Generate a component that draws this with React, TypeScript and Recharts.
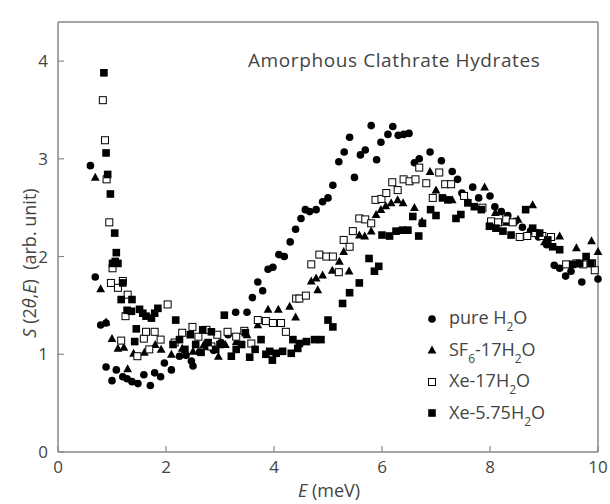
import React from 'react';
import { ScatterChart, Scatter, XAxis, YAxis, Legend } from 'recharts';

// E (meV) vs S(2θ,E)
const pureH2O: [number, number][] = [
  [0.6, 2.93], [0.69, 1.79], [0.79, 1.3], [0.89, 1.32], [0.89, 0.87], [1.0, 0.73], [1.08, 0.84],
  [1.2, 0.77], [1.28, 0.75], [1.37, 0.72], [1.48, 0.7], [1.59, 0.79], [1.71, 0.68], [1.79, 0.81],
  [1.9, 0.77], [1.97, 0.91], [2.1, 0.84], [2.25, 0.98], [2.37, 0.99], [2.47, 0.93], [2.5, 0.88],
  [2.62, 1.02], [2.75, 1.08], [2.88, 1.04], [3.02, 1.12], [3.15, 1.2], [3.29, 1.43], [3.5, 1.43],
  [3.6, 1.58], [3.7, 1.74], [3.79, 1.65], [3.89, 1.87], [3.98, 1.89], [4.09, 2.02], [4.19, 2.0],
  [4.3, 2.15], [4.4, 2.28], [4.5, 2.39], [4.58, 2.48], [4.66, 2.46], [4.78, 2.48], [4.9, 2.56],
  [5.0, 2.6], [5.09, 2.73], [5.2, 2.97], [5.3, 3.07], [5.4, 3.22], [5.49, 2.81], [5.6, 3.04],
  [5.69, 3.09], [5.8, 3.34], [5.9, 2.99], [5.98, 3.17], [6.11, 3.25], [6.2, 3.33], [6.3, 3.24],
  [6.4, 3.25], [6.5, 3.26], [6.6, 2.96], [6.69, 3.0], [6.89, 3.07], [7.1, 2.98], [7.3, 2.87],
  [7.4, 2.79], [7.48, 2.65], [7.68, 2.71], [7.79, 2.6], [8.0, 2.62], [8.09, 2.51], [8.21, 2.46],
  [8.33, 2.42], [8.47, 2.36], [8.6, 2.3], [8.75, 2.26], [8.9, 2.2], [9.05, 2.12], [9.19, 1.91],
  [9.29, 1.88], [9.4, 1.8], [9.5, 1.85], [9.7, 1.74], [10.0, 1.77],
];

const sf6H2O: [number, number][] = [
  [0.69, 2.81], [0.79, 1.67], [0.89, 1.33], [1.0, 1.16], [1.11, 1.06], [1.22, 1.07], [1.29, 0.85],
  [1.4, 1.01], [1.6, 1.02], [1.8, 1.1], [1.91, 1.05], [2.1, 1.0], [2.3, 1.06], [2.5, 1.03],
  [2.7, 1.1], [2.97, 0.98], [3.1, 1.1], [3.3, 1.13], [3.5, 1.2], [3.7, 1.3], [3.89, 1.46],
  [4.08, 1.46], [4.29, 1.49], [4.4, 1.38], [4.69, 1.75], [4.78, 1.78], [4.81, 1.66], [4.9, 1.81],
  [5.08, 1.86], [5.21, 1.95], [5.29, 2.05], [5.39, 1.85], [5.58, 2.22], [5.68, 2.21], [5.8, 2.26],
  [5.89, 2.43], [5.98, 2.48], [6.07, 2.52], [6.17, 2.55], [6.29, 2.58], [6.39, 2.55], [6.6, 2.5],
  [6.74, 2.36], [6.89, 2.87], [7.0, 2.68], [7.3, 2.58], [7.6, 2.55], [7.9, 2.71], [8.1, 2.45],
  [8.3, 2.35], [8.52, 2.38], [8.79, 2.53], [9.01, 2.15], [9.29, 2.21], [9.6, 2.09], [9.88, 2.16],
  [10.0, 2.05],
];

const xe17H2O: [number, number][] = [
  [0.83, 3.6], [0.87, 3.19], [0.9, 2.79], [0.95, 2.35], [1.01, 1.88], [0.98, 1.73], [1.11, 1.68],
  [1.2, 1.75], [1.29, 1.61], [1.25, 1.39], [1.17, 1.14], [1.47, 0.98], [1.59, 1.16], [1.63, 1.23],
  [1.69, 1.05], [1.79, 1.23], [1.9, 1.15], [2.03, 1.51], [2.16, 1.12], [2.3, 1.22], [2.49, 1.28],
  [2.6, 1.18], [2.75, 1.25], [2.84, 1.08], [2.95, 1.2], [3.14, 1.23], [3.3, 1.18], [3.45, 1.24],
  [3.58, 1.11], [3.7, 1.35], [3.85, 1.34], [3.98, 1.32], [4.13, 1.32], [4.22, 1.23], [4.41, 1.57],
  [4.47, 1.57], [4.59, 1.6], [4.69, 1.92], [4.84, 2.02], [4.97, 2.0], [5.09, 2.0], [5.2, 1.84],
  [5.29, 2.17], [5.4, 2.1], [5.46, 2.26], [5.58, 2.39], [5.69, 2.38], [5.8, 2.34], [5.88, 2.58],
  [5.99, 2.59], [6.08, 2.65], [6.19, 2.76], [6.29, 2.68], [6.4, 2.79], [6.51, 2.77], [6.62, 2.79],
  [6.69, 2.91], [6.82, 2.75], [6.94, 2.6], [7.06, 2.86], [7.17, 2.74], [7.28, 2.74], [7.52, 2.62],
  [7.86, 2.5], [8.02, 2.36], [8.15, 2.35], [8.3, 2.38], [8.42, 2.35], [8.55, 2.2], [8.69, 2.21],
  [8.84, 2.24], [8.97, 2.21], [9.13, 2.2], [9.41, 1.92], [9.6, 1.93], [9.73, 1.92], [9.89, 1.93],
  [9.94, 1.86],
];

const xe575H2O: [number, number][] = [
  [0.85, 3.88], [0.89, 3.06], [0.92, 2.84], [0.97, 2.64], [1.05, 2.24], [1.08, 2.04], [1.06, 1.95],
  [1.01, 1.93], [1.11, 1.93], [1.2, 1.73], [1.17, 1.56], [1.37, 1.56], [1.28, 1.45], [1.36, 1.44],
  [1.45, 1.26], [1.42, 1.13], [1.51, 1.46], [1.57, 1.42], [1.63, 1.39], [1.73, 1.37], [1.79, 1.42],
  [1.85, 1.47], [2.13, 1.1], [2.18, 1.35], [2.25, 1.15], [2.35, 1.05], [2.45, 1.2], [2.55, 1.1],
  [2.65, 1.02], [2.68, 1.25], [2.78, 1.12], [2.84, 1.23], [2.92, 1.05], [3.0, 1.1], [3.08, 1.4],
  [3.21, 0.98], [3.3, 1.05], [3.4, 1.1], [3.47, 1.22], [3.55, 0.97], [3.65, 1.05], [3.76, 1.15],
  [3.85, 1.0], [3.92, 1.03], [3.97, 0.94], [4.04, 1.01], [4.16, 1.03], [4.32, 1.01], [4.35, 1.15],
  [4.44, 1.06], [4.47, 1.11], [4.6, 1.13], [4.75, 1.15], [4.87, 1.15], [5.0, 1.35], [5.09, 1.28],
  [5.27, 1.52], [5.4, 1.63], [5.58, 1.73], [5.76, 1.98], [5.86, 1.85], [5.94, 1.9], [6.0, 2.22],
  [6.14, 2.21], [6.26, 2.26], [6.38, 2.27], [6.48, 2.27], [6.57, 2.41], [6.68, 2.21], [6.75, 2.34],
  [6.9, 2.48], [7.0, 2.42], [7.12, 2.6], [7.22, 2.58], [7.37, 2.39], [7.46, 2.43], [7.59, 2.55],
  [7.71, 2.51], [7.84, 2.48], [7.99, 2.31], [8.11, 2.29], [8.24, 2.26], [8.39, 2.22], [8.66, 2.48],
  [8.79, 2.29], [8.92, 2.24], [9.07, 2.17], [9.16, 2.1], [9.29, 2.07], [9.53, 1.92], [9.66, 1.93],
  [9.78, 2.0], [9.87, 1.93],
];

const xTicks = [0, 2, 4, 6, 8, 10];
const yTicks = [0, 1, 2, 3, 4];

const FONT = '"Open Sans", "DejaVu Sans", sans-serif';
const TEXT = '#444';
const FRAME = '#888';

const toPts = (arr: [number, number][]) => arr.map(([x, y]) => ({ x, y }));

const CircleMark = (p: any) => <circle cx={p.cx} cy={p.cy} r={3.8} fill="#000" />;
const TriMark = (p: any) => (
  <polygon
    points={`${p.cx},${p.cy - 4.6} ${p.cx + 4.4},${p.cy + 3.4} ${p.cx - 4.4},${p.cy + 3.4}`}
    fill="#000"
  />
);
const OpenSqMark = (p: any) => (
  <rect x={p.cx - 3.5} y={p.cy - 3.5} width={7} height={7} fill="#fff" stroke="#000" strokeWidth={1} />
);
const FillSqMark = (p: any) => (
  <rect x={p.cx - 3.8} y={p.cy - 3.8} width={7.6} height={7.6} fill="#000" />
);

const sub = (s: string) => (
  <span style={{ fontSize: 12, position: 'relative', top: 7 }}>{s}</span>
);

const legendRows = [
  { key: 'pure', mark: <circle cx={6} cy={6} r={3.8} fill="#000" />, label: <>pure H{sub('2')}O</> },
  { key: 'sf6', mark: <polygon points="6,1.4 10.4,9.4 1.6,9.4" fill="#000" />, label: <>SF{sub('6')}-17H{sub('2')}O</> },
  { key: 'xe17', mark: <rect x={2.5} y={2.5} width={7} height={7} fill="#fff" stroke="#000" />, label: <>Xe-17H{sub('2')}O</> },
  { key: 'xe575', mark: <rect x={2.2} y={2.2} width={7.6} height={7.6} fill="#000" />, label: <>Xe-5.75H{sub('2')}O</> },
];

const LegendBox = () => (
  <div style={{ fontFamily: FONT, fontSize: 18, color: TEXT, lineHeight: '20px' }}>
    {legendRows.map((r) => (
      <div key={r.key} style={{ display: 'flex', alignItems: 'center', height: 31.5 }}>
        <svg width={12} height={12} style={{ marginRight: 11 }}>{r.mark}</svg>
        <span>{r.label}</span>
      </div>
    ))}
  </div>
);

const YTitle = () => (
  <text transform="translate(29,263) rotate(-90)" textAnchor="middle" dominantBaseline="central"
    fontFamily={FONT} fontSize={18} fill={TEXT}>
    <tspan fontStyle="italic">S</tspan>
    <tspan>{'\u00a0(2'}</tspan>
    <tspan fontStyle="italic">θ</tspan>
    <tspan>,</tspan>
    <tspan fontStyle="italic">E</tspan>
    <tspan>{')\u00a0\u00a0(arb. unit)'}</tspan>
  </text>
);

const XTitle = () => (
  <text x={329} y={497} textAnchor="middle" fontFamily={FONT} fontSize={18} fill={TEXT}>
    <tspan fontStyle="italic">E</tspan>
    <tspan>{'\u00a0(meV)'}</tspan>
  </text>
);

const tickStyle = { fontSize: 17, fill: TEXT, fontFamily: FONT };

export default function App() {
  return (
    <div style={{ position: 'absolute', left: 0, top: 0, width: 610, height: 504, background: '#fff' }}>
      <ScatterChart width={610} height={504} margin={{ top: 21, right: 10, bottom: 22, left: 8 }}>
        <XAxis xAxisId="b" dataKey="x" type="number" domain={[0, 10]} ticks={xTicks}
          height={30} tickSize={-6} tickMargin={15} tick={tickStyle}
          axisLine={{ stroke: FRAME, strokeWidth: 1.5 }} tickLine={{ stroke: FRAME, strokeWidth: 1.2 }}
          label={<XTitle />} />
        <XAxis xAxisId="t" orientation="top" dataKey="x" type="number" domain={[0, 10]} ticks={xTicks}
          height={1} tickSize={-6} tick={false}
          axisLine={{ stroke: FRAME, strokeWidth: 1.5 }} tickLine={{ stroke: FRAME, strokeWidth: 1.2 }} />
        <YAxis yAxisId="l" dataKey="y" type="number" domain={[0, 4.4]} ticks={yTicks}
          width={50} tickSize={-6} tickMargin={16} tick={tickStyle}
          axisLine={{ stroke: FRAME, strokeWidth: 1.5 }} tickLine={{ stroke: FRAME, strokeWidth: 1.2 }}
          label={<YTitle />} />
        <YAxis yAxisId="r" orientation="right" dataKey="y" type="number" domain={[0, 4.4]} ticks={yTicks}
          width={2} tickSize={-6} tick={false}
          axisLine={{ stroke: FRAME, strokeWidth: 1.5 }} tickLine={{ stroke: FRAME, strokeWidth: 1.2 }} />
        <Legend layout="vertical" align="center" verticalAlign="middle" content={<LegendBox />}
          wrapperStyle={{ position: 'absolute', left: 426, top: 303, width: 180, height: 130 }} />
        <Scatter name="pure H2O" data={toPts(pureH2O)} xAxisId="b" yAxisId="l" shape={CircleMark} isAnimationActive={false} />
        <Scatter name="SF6-17H2O" data={toPts(sf6H2O)} xAxisId="b" yAxisId="l" shape={TriMark} isAnimationActive={false} />
        <Scatter name="Xe-17H2O" data={toPts(xe17H2O)} xAxisId="b" yAxisId="l" shape={OpenSqMark} isAnimationActive={false} />
        <Scatter name="Xe-5.75H2O" data={toPts(xe575H2O)} xAxisId="b" yAxisId="l" shape={FillSqMark} isAnimationActive={false} />
      </ScatterChart>
      <div style={{ position: 'absolute', left: 248, top: 47, fontFamily: FONT, fontSize: 19, letterSpacing: 0.6, color: TEXT, whiteSpace: 'nowrap' }}>
        Amorphous Clathrate Hydrates
      </div>
    </div>
  );
}
